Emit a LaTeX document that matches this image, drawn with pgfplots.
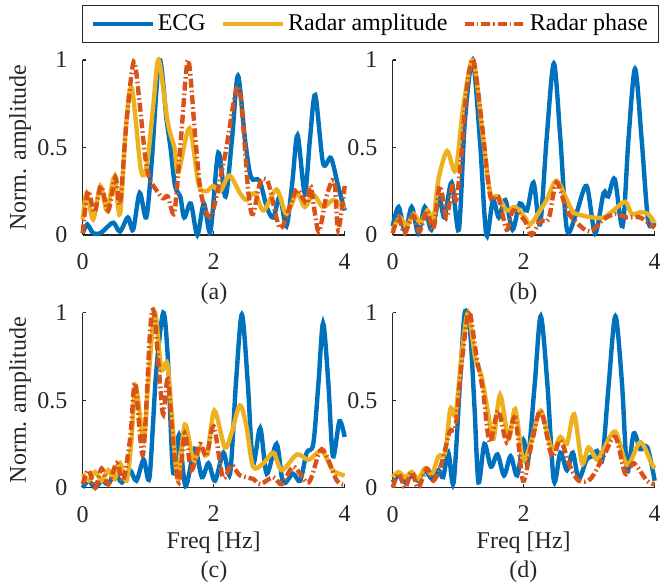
\documentclass[border=0pt,12pt]{standalone}
\usepackage{fontspec}
\setmainfont{Liberation Serif}
\usepackage{pgfplots}
\pgfplotsset{compat=1.18}
\definecolor{mblue}{rgb}{0,0.447,0.741}
\definecolor{myellow}{rgb}{0.929,0.694,0.125}
\definecolor{morange}{rgb}{0.850,0.325,0.098}
\definecolor{axgray}{rgb}{0.15,0.15,0.15}
\pgfplotsset{
  panel/.style={
    scale only axis, width=131pt, height=87.5pt,
    anchor=south west,
    xmin=0, xmax=4, ymin=0, ymax=1,
    xtick={0,2,4}, ytick={0,0.5,1},
    xticklabels={0,2,4}, yticklabels={0,0.5,1},
    axis x line*=bottom, axis y line*=left,
    axis line style={-, draw=axgray, line width=0.6pt},
    tick align=inside, major tick length=1.8pt,
    tick style={draw=axgray, line width=0.6pt},
    xticklabel shift=5pt, yticklabel shift=3.5pt,
    ticklabel style={text=axgray, font=\rmfamily},
    label style={text=axgray},
    clip=false,
    xlabel style={at={(axis description cs:0.5,-0.316)}, anchor=center},
    ylabel style={at={(axis description cs:-0.239,0.5)}, anchor=center},
    legend image code/.code={\draw[##1] (0pt,0pt) -- (30pt,0pt);},
  },
  ecg/.style={color=mblue, line width=2.2pt, smooth},
  amp/.style={color=myellow, line width=2.2pt, smooth},
  pha/.style={color=morange, line width=2.2pt, smooth, dash pattern=on 4.5pt off 1.5pt on 0.8pt off 1.5pt},
}
\begin{document}
\begin{tikzpicture}
\useasboundingbox (0,0) rectangle (330pt,292.5pt);
% (a)
\begin{axis}[panel, at={(41.35pt,175pt)}, ylabel={Norm. amplitude},
  legend columns=3,
  legend style={at={(axis description cs:-0.003,1.314)}, anchor=north west,
    draw=axgray, line width=0.5pt, inner xsep=4pt, inner ysep=2.2pt,
    nodes={inner xsep=1.5pt, inner ysep=2pt, text=black},
    /tikz/every even column/.append style={column sep=6pt}}]
\addplot[ecg] coordinates {(0,0.01)(0.07,0.06)(0.16,0.01)(0.27,0.01)(0.36,0.04)(0.47,0.07)(0.57,0.02)(0.69,0.10)(0.77,0.03)(0.87,0.24)(0.97,0.10)(1.05,0.40)(1.17,1.0)(1.28,0.66)(1.34,0.50)(1.41,0.28)(1.49,0.22)(1.55,0.10)(1.65,0.18)(1.75,0.0)(1.85,0.18)(1.95,0.02)(2.07,0.47)(2.18,0.22)(2.28,0.55)(2.37,0.91)(2.48,0.54)(2.57,0.33)(2.7,0.31)(2.81,0.16)(2.91,0.10)(3.01,0.22)(3.11,0.05)(3.2,0.3)(3.28,0.57)(3.39,0.24)(3.47,0.55)(3.55,0.80)(3.67,0.41)(3.79,0.44)(3.9,0.28)(4,0.14)};
\addlegendentry{ECG}
\addplot[amp] coordinates {(0,0.09)(0.06,0.24)(0.16,0.09)(0.27,0.28)(0.37,0.14)(0.48,0.33)(0.57,0.12)(0.66,0.62)(0.75,0.84)(0.89,0.37)(0.98,0.40)(1.08,0.75)(1.16,1.0)(1.3,0.64)(1.4,0.5)(1.46,0.36)(1.63,0.61)(1.77,0.29)(1.89,0.25)(1.99,0.28)(2.1,0.25)(2.24,0.34)(2.4,0.24)(2.5,0.2)(2.63,0.24)(2.76,0.14)(2.96,0.26)(3.11,0.12)(3.27,0.24)(3.39,0.16)(3.52,0.23)(3.67,0.16)(3.83,0.2)(4,0.15)};
\addlegendentry{Radar amplitude}
\addplot[pha] coordinates {(0,0.01)(0.08,0.25)(0.18,0.13)(0.28,0.28)(0.39,0.14)(0.5,0.33)(0.57,0.18)(0.67,0.65)(0.78,0.99)(0.87,0.75)(0.95,0.46)(1.02,0.32)(1.1,0.27)(1.22,0.21)(1.3,0.22)(1.4,0.13)(1.5,0.55)(1.61,1.0)(1.72,0.55)(1.81,0.23)(1.96,0.11)(2.17,0.45)(2.38,0.85)(2.53,0.24)(2.6,0.12)(2.71,0.3)(2.83,0.3)(3.01,0.04)(3.16,0.16)(3.27,0.26)(3.42,0.18)(3.48,0.28)(3.6,0.02)(3.72,0.22)(3.84,0.31)(3.9,0.03)(4,0.28)};
\addlegendentry{Radar phase}
\end{axis}
% (b)
\begin{axis}[panel, at={(196.35pt,175pt)}]
\addplot[ecg] coordinates {(0,0.05)(0.09,0.16)(0.19,0.02)(0.29,0.16)(0.39,0.01)(0.49,0.16)(0.59,0.03)(0.71,0.21)(0.79,0.1)(0.9,0.3)(1.01,0.03)(1.1,0.64)(1.22,1.0)(1.33,0.55)(1.43,0.0)(1.53,0.2)(1.62,0.1)(1.72,0.2)(1.83,0.03)(1.94,0.18)(2.05,0.14)(2.15,0.3)(2.25,0.06)(2.35,0.55)(2.46,0.98)(2.56,0.55)(2.66,0.03)(2.8,0.12)(2.96,0.28)(3.09,0.01)(3.22,0.24)(3.29,0.22)(3.39,0.32)(3.51,0.05)(3.6,0.55)(3.7,0.95)(3.8,0.55)(3.9,0.08)(4,0.07)};
\addplot[amp] coordinates {(0,0.03)(0.11,0.1)(0.21,0.05)(0.32,0.12)(0.42,0.07)(0.53,0.14)(0.62,0.09)(0.7,0.32)(0.83,0.48)(0.96,0.37)(1.08,0.74)(1.23,1.0)(1.38,0.55)(1.49,0.24)(1.61,0.22)(1.74,0.14)(1.87,0.16)(2.02,0.1)(2.1,0.06)(2.25,0.14)(2.35,0.2)(2.5,0.31)(2.66,0.2)(2.76,0.13)(2.91,0.11)(3.06,0.1)(3.22,0.1)(3.37,0.14)(3.55,0.19)(3.65,0.12)(3.78,0.13)(3.9,0.12)(4,0.07)};
\addplot[pha] coordinates {(0,0.01)(0.09,0.1)(0.18,0.01)(0.31,0.11)(0.41,0.02)(0.52,0.14)(0.62,0.03)(0.72,0.28)(0.82,0.1)(0.91,0.28)(0.97,0.2)(1.04,0.42)(1.13,0.83)(1.23,1.0)(1.36,0.64)(1.49,0.22)(1.61,0.22)(1.74,0.03)(1.84,0.14)(2.02,0.08)(2.12,0.0)(2.25,0.08)(2.38,0.09)(2.5,0.3)(2.66,0.14)(2.81,0.07)(3.01,0.02)(3.22,0.09)(3.4,0.12)(3.58,0.1)(3.78,0.1)(4,0.04)};
\end{axis}
% (c)
\begin{axis}[panel, at={(41.35pt,48.65pt)}, ylabel={Norm. amplitude}, xlabel={Freq [Hz]}]
\addplot[ecg] coordinates {(0,0.0)(0.09,0.04)(0.19,0.0)(0.29,0.04)(0.39,0.02)(0.49,0.08)(0.6,0.03)(0.72,0.1)(0.82,0.04)(0.93,0.16)(1.02,0.06)(1.12,0.65)(1.23,1.0)(1.3,0.74)(1.38,0.09)(1.47,0.3)(1.57,0.01)(1.71,0.22)(1.82,0.06)(1.92,0.14)(2.02,0.04)(2.15,0.2)(2.25,0.08)(2.34,0.6)(2.43,0.99)(2.52,0.6)(2.6,0.14)(2.71,0.34)(2.81,0.08)(2.96,0.25)(3.06,0.03)(3.21,0.08)(3.32,0.04)(3.42,0.2)(3.52,0.25)(3.6,0.6)(3.67,0.94)(3.75,0.6)(3.82,0.18)(3.92,0.38)(4,0.29)};
\addplot[amp] coordinates {(0,0.08)(0.09,0.04)(0.19,0.09)(0.29,0.04)(0.39,0.1)(0.49,0.05)(0.57,0.14)(0.67,0.04)(0.74,0.25)(0.81,0.58)(0.93,0.27)(1.0,0.6)(1.1,1.0)(1.2,0.68)(1.29,0.71)(1.36,0.42)(1.45,0.05)(1.56,0.36)(1.69,0.16)(1.8,0.23)(1.9,0.19)(2.01,0.44)(2.17,0.23)(2.27,0.31)(2.4,0.47)(2.5,0.35)(2.6,0.12)(2.76,0.14)(2.91,0.2)(3.04,0.1)(3.27,0.19)(3.45,0.16)(3.65,0.21)(3.82,0.1)(4,0.07)};
\addplot[pha] coordinates {(0,0.02)(0.09,0.1)(0.19,0.0)(0.29,0.11)(0.39,0.02)(0.52,0.14)(0.62,0.04)(0.73,0.3)(0.8,0.6)(0.92,0.19)(1.03,0.9)(1.09,1.0)(1.18,0.6)(1.23,0.42)(1.3,0.62)(1.38,0.26)(1.47,0.03)(1.56,0.31)(1.66,0.1)(1.79,0.25)(1.89,0.18)(2.0,0.35)(2.14,0.06)(2.27,0.13)(2.4,0.07)(2.6,0.05)(2.71,0.02)(2.91,0.06)(3.04,0.02)(3.22,0.12)(3.45,0.03)(3.65,0.22)(3.88,0.04)(4,0.02)};
\end{axis}
% (d)
\begin{axis}[panel, at={(196.35pt,48.65pt)}, xlabel={Freq [Hz]}]
\addplot[ecg] coordinates {(0,0.03)(0.09,0.07)(0.19,0.03)(0.29,0.07)(0.39,0.04)(0.49,0.1)(0.6,0.05)(0.7,0.1)(0.77,0.06)(0.85,0.2)(0.93,0.03)(1.03,0.62)(1.1,1.0)(1.18,0.9)(1.25,0.45)(1.31,0.03)(1.4,0.25)(1.5,0.12)(1.6,0.19)(1.7,0.07)(1.8,0.18)(1.9,0.07)(2.0,0.27)(2.06,0.14)(2.17,0.6)(2.26,0.98)(2.36,0.6)(2.46,0.04)(2.56,0.2)(2.66,0.1)(2.75,0.2)(2.84,0.05)(2.96,0.16)(3.05,0.18)(3.12,0.21)(3.2,0.16)(3.3,0.6)(3.4,0.98)(3.5,0.6)(3.58,0.1)(3.68,0.31)(3.78,0.22)(3.89,0.23)(4,0.04)};
\addplot[amp] coordinates {(0,0.06)(0.09,0.09)(0.19,0.06)(0.29,0.09)(0.39,0.05)(0.49,0.11)(0.6,0.08)(0.7,0.18)(0.8,0.2)(0.88,0.45)(0.96,0.42)(1.05,0.75)(1.15,1.0)(1.26,0.74)(1.36,0.63)(1.46,0.42)(1.54,0.28)(1.64,0.53)(1.77,0.28)(1.87,0.45)(1.99,0.16)(2.12,0.27)(2.26,0.44)(2.43,0.22)(2.56,0.29)(2.66,0.25)(2.77,0.42)(2.89,0.14)(2.99,0.23)(3.12,0.16)(3.22,0.22)(3.4,0.32)(3.58,0.13)(3.78,0.26)(3.95,0.14)(4,0.11)};
\addplot[pha] coordinates {(0,0.0)(0.09,0.08)(0.19,0.0)(0.29,0.09)(0.39,0.0)(0.52,0.11)(0.62,0.04)(0.74,0.13)(0.87,0.32)(0.96,0.35)(1.05,0.7)(1.13,0.95)(1.18,1.0)(1.28,0.75)(1.38,0.55)(1.48,0.26)(1.61,0.44)(1.74,0.26)(1.87,0.4)(1.99,0.04)(2.12,0.25)(2.26,0.44)(2.43,0.18)(2.56,0.27)(2.71,0.12)(2.84,0.04)(3.02,0.05)(3.22,0.18)(3.4,0.29)(3.55,0.08)(3.68,0.14)(3.88,0.04)(4,0.02)};
\end{axis}
\node[text=axgray] at (107pt,145.5pt) {(a)};
\node[text=axgray] at (261.7pt,145.5pt) {(b)};
\node[text=axgray] at (107pt,6.5pt) {(c)};
\node[text=axgray] at (261.7pt,6.5pt) {(d)};
\end{tikzpicture}
\end{document}
